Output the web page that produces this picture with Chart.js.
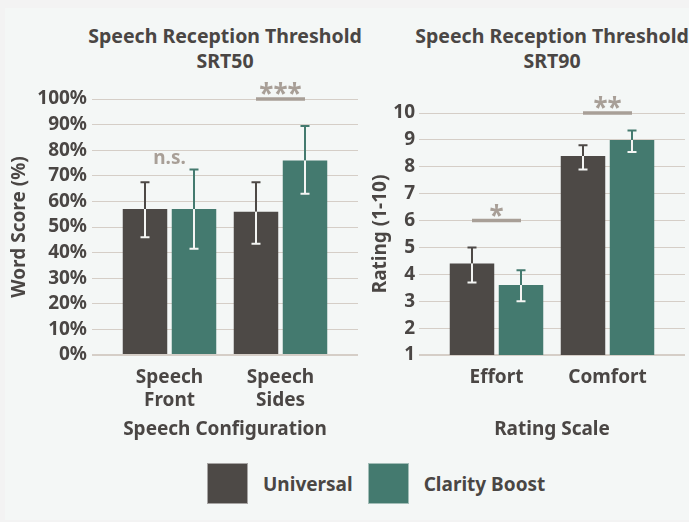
<!DOCTYPE html>
<html lang="en">
<head>
    <meta charset="UTF-8">
    <title>Speech Reception Threshold</title>
    <script src="https://cdn.jsdelivr.net/npm/chart.js"></script>
    <style>
        body { margin: 0; background: #f3f3f3; font-family: 'Noto Sans', sans-serif; color: #4a4644; }
        .panel { position: absolute; left: 5px; top: 8px; width: 684px; height: 512px; background: #f4f7f6; }
        .chart-title { position: absolute; margin: 0; font-size: 19.5px; font-weight: bold; line-height: 25px; text-align: center; white-space: nowrap; }
        #title50 { left: 0; width: 450px; top: 23px; }
        #title90 { left: 402px; width: 300px; top: 23px; }
        #wrap50 { position: absolute; left: 0; top: 0; width: 365px; height: 450px; }
        #wrap90 { position: absolute; left: 365px; top: 0; width: 324px; height: 450px; }
        .legend { position: absolute; top: 463px; left: 207px; display: flex; align-items: center; font-size: 19px; font-weight: bold; }
        .legend .box { width: 41px; height: 41px; box-sizing: border-box; border: 1px solid rgba(255,255,255,0.5); margin-right: 15px; }
        .legend .item { display: flex; align-items: center; margin-right: 15px; }
    </style>
</head>
<body>
    <div class="panel"></div>
    <h3 class="chart-title" id="title50">Speech Reception Threshold<br>SRT50</h3>
    <h3 class="chart-title" id="title90">Speech Reception Threshold<br>SRT90</h3>
    <div id="wrap50"><canvas id="srt50Chart"></canvas></div>
    <div id="wrap90"><canvas id="srt90Chart"></canvas></div>
    <div class="legend">
        <div class="item"><div class="box" style="background:#4d4946"></div>Universal</div>
        <div class="item"><div class="box" style="background:#447a6f"></div>Clarity Boost</div>
    </div>

    <script>
        // SRT50 word scores (%)
        const configLabels = [['Speech', 'Front'], ['Speech', 'Sides']];
        const universalScore = [57, 56];
        const universalScoreLow = [46, 43.5];
        const universalScoreHigh = [67.5, 67.5];
        const clarityScore = [57, 76];
        const clarityScoreLow = [41.5, 63];
        const clarityScoreHigh = [72.5, 89.5];

        // SRT90 ratings (1-10)
        const ratingLabels = ['Effort', 'Comfort'];
        const universalRating = [4.4, 8.4];
        const universalRatingLow = [3.7, 7.9];
        const universalRatingHigh = [5.0, 8.8];
        const clarityRating = [3.6, 9.0];
        const clarityRatingLow = [3.0, 8.55];
        const clarityRatingHigh = [4.15, 9.35];

        // significance marks: category index, value, text, bracket line
        const sig50 = [
            { index: 0, value: 75, text: 'n.s.', line: false },
            { index: 1, value: 100, text: '***', line: true }
        ];
        const sig90 = [
            { index: 0, value: 6, text: '*', line: true },
            { index: 1, value: 10, text: '**', line: true }
        ];

        const darkColor = '#4d4946';
        const greenColor = '#447a6f';
        const gridColor = '#d5cec7';
        const sigColor = '#a89f97';
        const textColor = '#4a4644';

        Chart.defaults.font.family = "'Noto Sans', sans-serif";
        Chart.defaults.font.size = 19;
        Chart.defaults.font.weight = 'bold';
        Chart.defaults.color = textColor;

        const errorBars = {
            id: 'errorBars',
            afterDatasetsDraw(chart) {
                const ctx = chart.ctx;
                const yScale = chart.scales.y;
                chart.data.datasets.forEach((ds, di) => {
                    const meta = chart.getDatasetMeta(di);
                    meta.data.forEach((bar, i) => {
                        const yHigh = yScale.getPixelForValue(ds.errHigh[i]);
                        const yLow = yScale.getPixelForValue(ds.errLow[i]);
                        const x = bar.x;
                        ctx.save();
                        ctx.lineWidth = 2;
                        ctx.strokeStyle = ds.backgroundColor;
                        ctx.beginPath();
                        ctx.moveTo(x, yHigh);
                        ctx.lineTo(x, bar.y);
                        ctx.moveTo(x - 4.5, yHigh);
                        ctx.lineTo(x + 4.5, yHigh);
                        ctx.stroke();
                        ctx.strokeStyle = '#f4f5f3';
                        ctx.beginPath();
                        ctx.moveTo(x, bar.y);
                        ctx.lineTo(x, yLow);
                        ctx.moveTo(x - 4.5, yLow);
                        ctx.lineTo(x + 4.5, yLow);
                        ctx.stroke();
                        ctx.restore();
                    });
                });
            }
        };

        const sigMarks = {
            id: 'sigMarks',
            afterDraw(chart, args, opts) {
                const ctx = chart.ctx;
                const yScale = chart.scales.y;
                const bars0 = chart.getDatasetMeta(0).data;
                const bars1 = chart.getDatasetMeta(1).data;
                opts.marks.forEach(m => {
                    const x0 = bars0[m.index].x;
                    const x1 = bars1[m.index].x;
                    const y = yScale.getPixelForValue(m.value);
                    ctx.save();
                    ctx.fillStyle = sigColor;
                    ctx.strokeStyle = sigColor;
                    ctx.textAlign = 'center';
                    ctx.textBaseline = 'alphabetic';
                    if (m.line) {
                        ctx.lineWidth = 3.5;
                        ctx.beginPath();
                        ctx.moveTo(x0, y);
                        ctx.lineTo(x1, y);
                        ctx.stroke();
                        ctx.font = "bold 26px 'Noto Sans'";
                        ctx.fillText(m.text, (x0 + x1) / 2, y + 4);
                    } else {
                        ctx.font = "bold 19px 'Noto Sans'";
                        ctx.fillText(m.text, (x0 + x1) / 2, y + 1);
                    }
                    ctx.restore();
                });
            }
        };

        function makeChart(canvasId, labels, sets, yOpts, yWidth, xTitle, yTitle, yTitlePad, pad, marks) {
            const baseValue = yOpts.min;
            const gridWidth = ctx => (ctx.tick && ctx.tick.value === baseValue ? 2 : 1);
            return new Chart(document.getElementById(canvasId), {
                type: 'bar',
                data: {
                    labels: labels,
                    datasets: sets.map(s => ({
                        label: s.label,
                        data: s.data,
                        errLow: s.low,
                        errHigh: s.high,
                        backgroundColor: s.color,
                        barPercentage: 0.908,
                        categoryPercentage: 0.883
                    }))
                },
                options: {
                    responsive: true,
                    maintainAspectRatio: false,
                    animation: false,
                    layout: { padding: pad },
                    plugins: {
                        legend: { display: false },
                        tooltip: { enabled: false },
                        sigMarks: { marks: marks }
                    },
                    scales: {
                        x: {
                            grid: { display: false, drawTicks: false },
                            border: { display: false },
                            ticks: { padding: 11 },
                            title: { display: true, text: xTitle, padding: { bottom: 9 } },
                            afterFit(scale) { scale.height = 95; }
                        },
                        y: {
                            min: yOpts.min,
                            max: yOpts.max,
                            ticks: { stepSize: yOpts.step, autoSkip: false, padding: yOpts.tickPad, callback: yOpts.fmt },
                            grid: { color: gridColor, tickLength: 22, lineWidth: gridWidth },
                            border: { display: false },
                            title: { display: true, text: yTitle, padding: { top: yTitlePad } },
                            afterFit(scale) { scale.width = yWidth; }
                        },
                        yR: {
                            position: 'right',
                            min: yOpts.min,
                            max: yOpts.max,
                            ticks: { stepSize: yOpts.step, autoSkip: false, color: 'rgba(0,0,0,0)', padding: 0 },
                            grid: { color: gridColor, drawOnChartArea: false, tickLength: 22, lineWidth: gridWidth },
                            border: { display: false },
                            afterFit(scale) { scale.width = 22; }
                        }
                    }
                },
                plugins: [errorBars, sigMarks]
            });
        }

        window.onload = function() {
            makeChart('srt50Chart', configLabels, [
                { label: 'Universal', data: universalScore, low: universalScoreLow, high: universalScoreHigh, color: darkColor },
                { label: 'Clarity Boost', data: clarityScore, low: clarityScoreLow, high: clarityScoreHigh, color: greenColor }
            ], { min: 0, max: 100, step: 10, tickPad: 5, fmt: v => v + '%' },
            114, 'Speech Configuration', 'Word Score (%)', 8, { top: 99, right: 7 }, sig50);

            makeChart('srt90Chart', ratingLabels, [
                { label: 'Universal', data: universalRating, low: universalRatingLow, high: universalRatingHigh, color: darkColor },
                { label: 'Clarity Boost', data: clarityRating, low: clarityRatingLow, high: clarityRatingHigh, color: greenColor }
            ], { min: 1, max: 10, step: 1, tickPad: 4, fmt: v => v },
            76, 'Rating Scale', 'Rating (1-10)', 4, { top: 113, right: 4 }, sig90);
        };
    </script>
</body>
</html>
